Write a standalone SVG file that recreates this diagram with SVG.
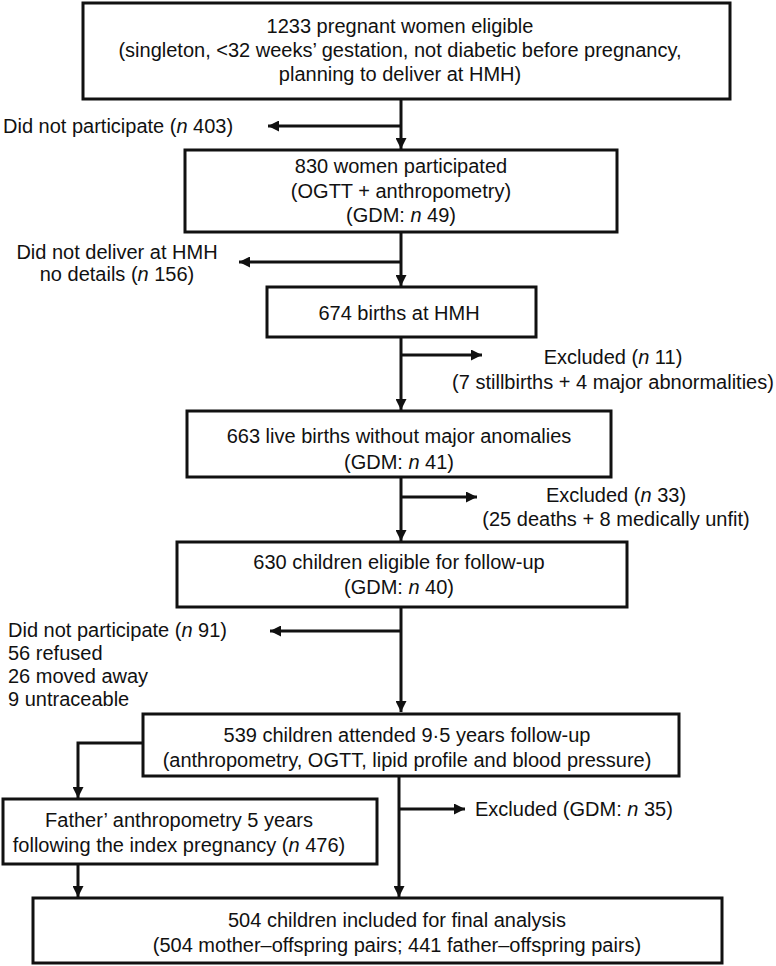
<svg xmlns="http://www.w3.org/2000/svg" width="776" height="966" viewBox="0 0 776 966">
<style>
.box{fill:#fff;stroke:#111;stroke-width:3}
.t{font-family:"Liberation Sans",Arial,sans-serif;font-size:20px;fill:#111}
.c{text-anchor:middle}
.i{font-style:italic}
.ln{fill:none;stroke:#111;stroke-width:3}
</style>
<defs>
<marker id="ah" markerUnits="userSpaceOnUse" markerWidth="11" markerHeight="11" refX="11" refY="5.5" orient="auto">
<path d="M0,0 L11,5.5 L0,11 z" fill="#111"/>
</marker>
</defs>
<rect width="776" height="966" fill="#fff"/>
<g id="connectors">
<line class="ln" x1="401" y1="99" x2="401" y2="149" marker-end="url(#ah)"/>
<line class="ln" x1="401" y1="126" x2="268" y2="126" marker-end="url(#ah)"/>
<line class="ln" x1="401" y1="232" x2="401" y2="286" marker-end="url(#ah)"/>
<line class="ln" x1="401" y1="262" x2="239" y2="262" marker-end="url(#ah)"/>
<line class="ln" x1="401" y1="337" x2="401" y2="410" marker-end="url(#ah)"/>
<line class="ln" x1="401" y1="355" x2="482" y2="355" marker-end="url(#ah)"/>
<line class="ln" x1="401" y1="477" x2="401" y2="541" marker-end="url(#ah)"/>
<line class="ln" x1="401" y1="497" x2="477" y2="497" marker-end="url(#ah)"/>
<line class="ln" x1="401" y1="607" x2="401" y2="712" marker-end="url(#ah)"/>
<line class="ln" x1="401" y1="631" x2="270" y2="631" marker-end="url(#ah)"/>
<polyline class="ln" points="143,743 78,743 78,798" marker-end="url(#ah)"/>
<line class="ln" x1="399" y1="776" x2="399" y2="897" marker-end="url(#ah)"/>
<line class="ln" x1="399" y1="809" x2="465" y2="809" marker-end="url(#ah)"/>
<line class="ln" x1="78" y1="864" x2="78" y2="897" marker-end="url(#ah)"/>
</g>
<g id="n1">
<rect class="box" x="83" y="3" width="647" height="96"/>
<text class="t c" x="400" y="33">1233 pregnant women eligible</text>
<text class="t c" x="400" y="57">(singleton, &lt;32 weeks’ gestation, not diabetic before pregnancy,</text>
<text class="t c" x="400" y="81">planning to deliver at HMH)</text>
</g>
<g id="x1">
<text class="t" x="3" y="133">Did not participate (<tspan class="i">n</tspan> 403)</text>
</g>
<g id="n2">
<rect class="box" x="185" y="150" width="432" height="82"/>
<text class="t c" x="401" y="173">830 women participated</text>
<text class="t c" x="401" y="198">(OGTT + anthropometry)</text>
<text class="t c" x="401" y="222">(GDM: <tspan class="i">n</tspan> 49)</text>
</g>
<g id="x2">
<text class="t c" x="117" y="259">Did not deliver at HMH</text>
<text class="t c" x="117" y="281">no details (<tspan class="i">n</tspan> 156)</text>
</g>
<g id="n3">
<rect class="box" x="267" y="287" width="269" height="50"/>
<text class="t c" x="399" y="320">674 births at HMH</text>
</g>
<g id="x3">
<text class="t c" x="613" y="364">Excluded (<tspan class="i">n</tspan> 11)</text>
<text class="t c" x="613" y="389">(7 stillbirths + 4 major abnormalities)</text>
</g>
<g id="n4">
<rect class="box" x="187" y="411" width="424" height="66"/>
<text class="t c" x="399" y="443">663 live births without major anomalies</text>
<text class="t c" x="399" y="469">(GDM: <tspan class="i">n</tspan> 41)</text>
</g>
<g id="x4">
<text class="t c" x="616" y="502">Excluded (<tspan class="i">n</tspan> 33)</text>
<text class="t c" x="616" y="526">(25 deaths + 8 medically unfit)</text>
</g>
<g id="n5">
<rect class="box" x="177" y="542" width="450" height="65"/>
<text class="t c" x="399" y="569">630 children eligible for follow-up</text>
<text class="t c" x="399" y="594">(GDM: <tspan class="i">n</tspan> 40)</text>
</g>
<g id="x5">
<text class="t" x="8" y="637">Did not participate (<tspan class="i">n</tspan> 91)</text>
<text class="t" x="8" y="660">56 refused</text>
<text class="t" x="8" y="683">26 moved away</text>
<text class="t" x="8" y="706">9 untraceable</text>
</g>
<g id="n6">
<rect class="box" x="143" y="714" width="536" height="62"/>
<text class="t c" x="407" y="742">539 children attended 9·5 years follow-up</text>
<text class="t c" x="407" y="767">(anthropometry, OGTT, lipid profile and blood pressure)</text>
</g>
<g id="x6">
<text class="t" x="475" y="816">Excluded (GDM: <tspan class="i">n</tspan> 35)</text>
</g>
<g id="n7">
<rect class="box" x="3" y="799" width="374" height="65"/>
<text class="t c" x="179" y="827">Father’ anthropometry 5 years</text>
<text class="t c" x="179" y="852">following the index pregnancy (<tspan class="i">n</tspan> 476)</text>
</g>
<g id="n8">
<rect class="box" x="33" y="898" width="689" height="65"/>
<text class="t c" x="397" y="927">504 children included for final analysis</text>
<text class="t c" x="397" y="952">(504 mother–offspring pairs; 441 father–offspring pairs)</text>
</g>
</svg>
